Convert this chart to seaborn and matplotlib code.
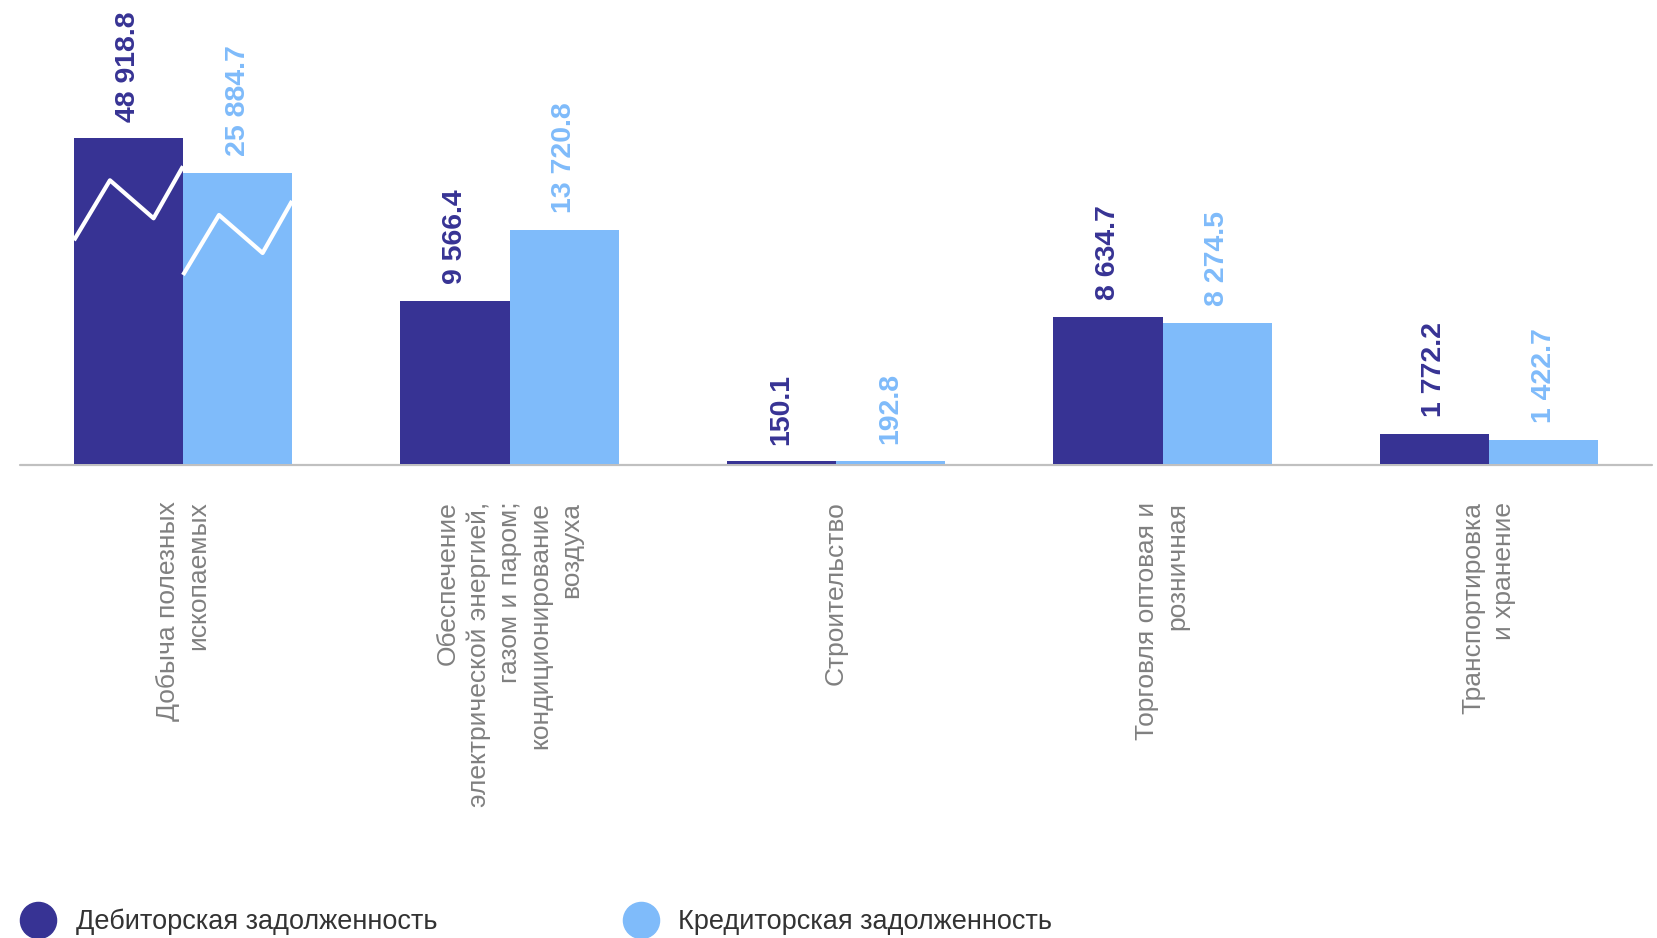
import matplotlib
matplotlib.use('Agg')
import matplotlib.pyplot as plt
from matplotlib.lines import Line2D
import numpy as np
import pandas as pd
import seaborn as sns

sns.set_style('white')
plt.rcParams['font.family'] = ['Liberation Sans', 'DejaVu Sans']

# ДАННЫЕ
categories = [
    'Добыча полезных\nископаемых',
    'Обеспечение\nэлектрической энергией,\nгазом и паром;\nкондиционирование\nвоздуха',
    'Строительство',
    'Торговля оптовая и\nрозничная',
    'Транспортировка\nи хранение',
]
series = ['Дебиторская задолженность', 'Кредиторская задолженность']
debit = [48918.8, 9566.4, 150.1, 8634.7, 1772.2]
credit = [25884.7, 13720.8, 192.8, 8274.5, 1422.7]

colors = ['#373394', '#7fbbfa']

df = pd.DataFrame({
    'cat': categories * 2,
    'series': [series[0]] * 5 + [series[1]] * 5,
    'val': debit + credit,
})

# разрыв оси: выше порога шкала сжимается
T = 16198.0
K = 0.08826


def fwd(v):
    v = np.asarray(v, dtype=float)
    return np.where(v <= T, v, T + (v - T) * K)


def inv(u):
    u = np.asarray(u, dtype=float)
    return np.where(u <= T, u, T + (u - T) / K)


W, H = 1657, 938
fig = plt.figure(figsize=(W / 100, H / 100), dpi=100)
ax_h_px = 464
ax = fig.add_axes([19.75 / W, (H - ax_h_px) / H, 1632.5 / W, ax_h_px / H])

sns.barplot(data=df, x='cat', y='val', hue='series', palette=colors,
            width=0.668, saturation=1, linewidth=0, legend=False, ax=ax, zorder=2)

ax.set_yscale('function', functions=(fwd, inv))
S = 58.6  # единиц шкалы на пиксель
ax.set_ylim(0, float(inv(ax_h_px * S)))
ax.set_xlim(-0.5, 4.5)

# базовая линия чуть ниже столбцов
ax.axhline(float(inv(-1.2 * S)), color='#c0c0c0', lw=1.6, zorder=1, clip_on=False)

for s in ax.spines.values():
    s.set_visible(False)
ax.set_yticks([])
ax.set_xlabel('')
ax.set_ylabel('')

ax.set_xticks(range(len(categories)))
ax.set_xticklabels(categories, rotation=90, fontsize=19, color='#808080',
                   va='top', ha='center', multialignment='right', linespacing=1.35)
ax.tick_params(axis='x', length=0, pad=27)

# подписи значений
for cont, col in zip(ax.containers, colors):
    for bar in cont:
        v = bar.get_height()
        txt = f'{v:,.1f}'.replace(',', ' ')
        ax.annotate(txt, (bar.get_x() + bar.get_width() / 2, v),
                    xytext=(0, 12), textcoords='offset points',
                    rotation=90, ha='center', va='bottom',
                    fontsize=20.5, fontweight='bold', color=col)

# зигзаг разрыва на первой группе
zx = [0.0, 0.33, 0.73, 1.0]
zd = [102, 42, 80, 28]
for cont in ax.containers:
    bar = cont[0]
    top = fwd(bar.get_height())
    xs = [bar.get_x() + f * bar.get_width() for f in zx]
    ys = [float(inv(top - d * S)) for d in zd]
    ax.plot(xs, ys, color='white', lw=3, zorder=3, solid_capstyle='butt')

# легенда
handles = [Line2D([], [], marker='o', linestyle='', markersize=26,
                  markerfacecolor=c, markeredgecolor=c) for c in colors]
fig.legend(handles, series, loc='center left', bbox_to_anchor=(24.5 / W, 16 / H),
           ncol=2, frameon=False, fontsize=19.5, handlelength=1.0,
           handletextpad=0.9, columnspacing=7.0, borderpad=0, borderaxespad=0,
           labelcolor='#333333')

fig.savefig('out.png', dpi=100)
